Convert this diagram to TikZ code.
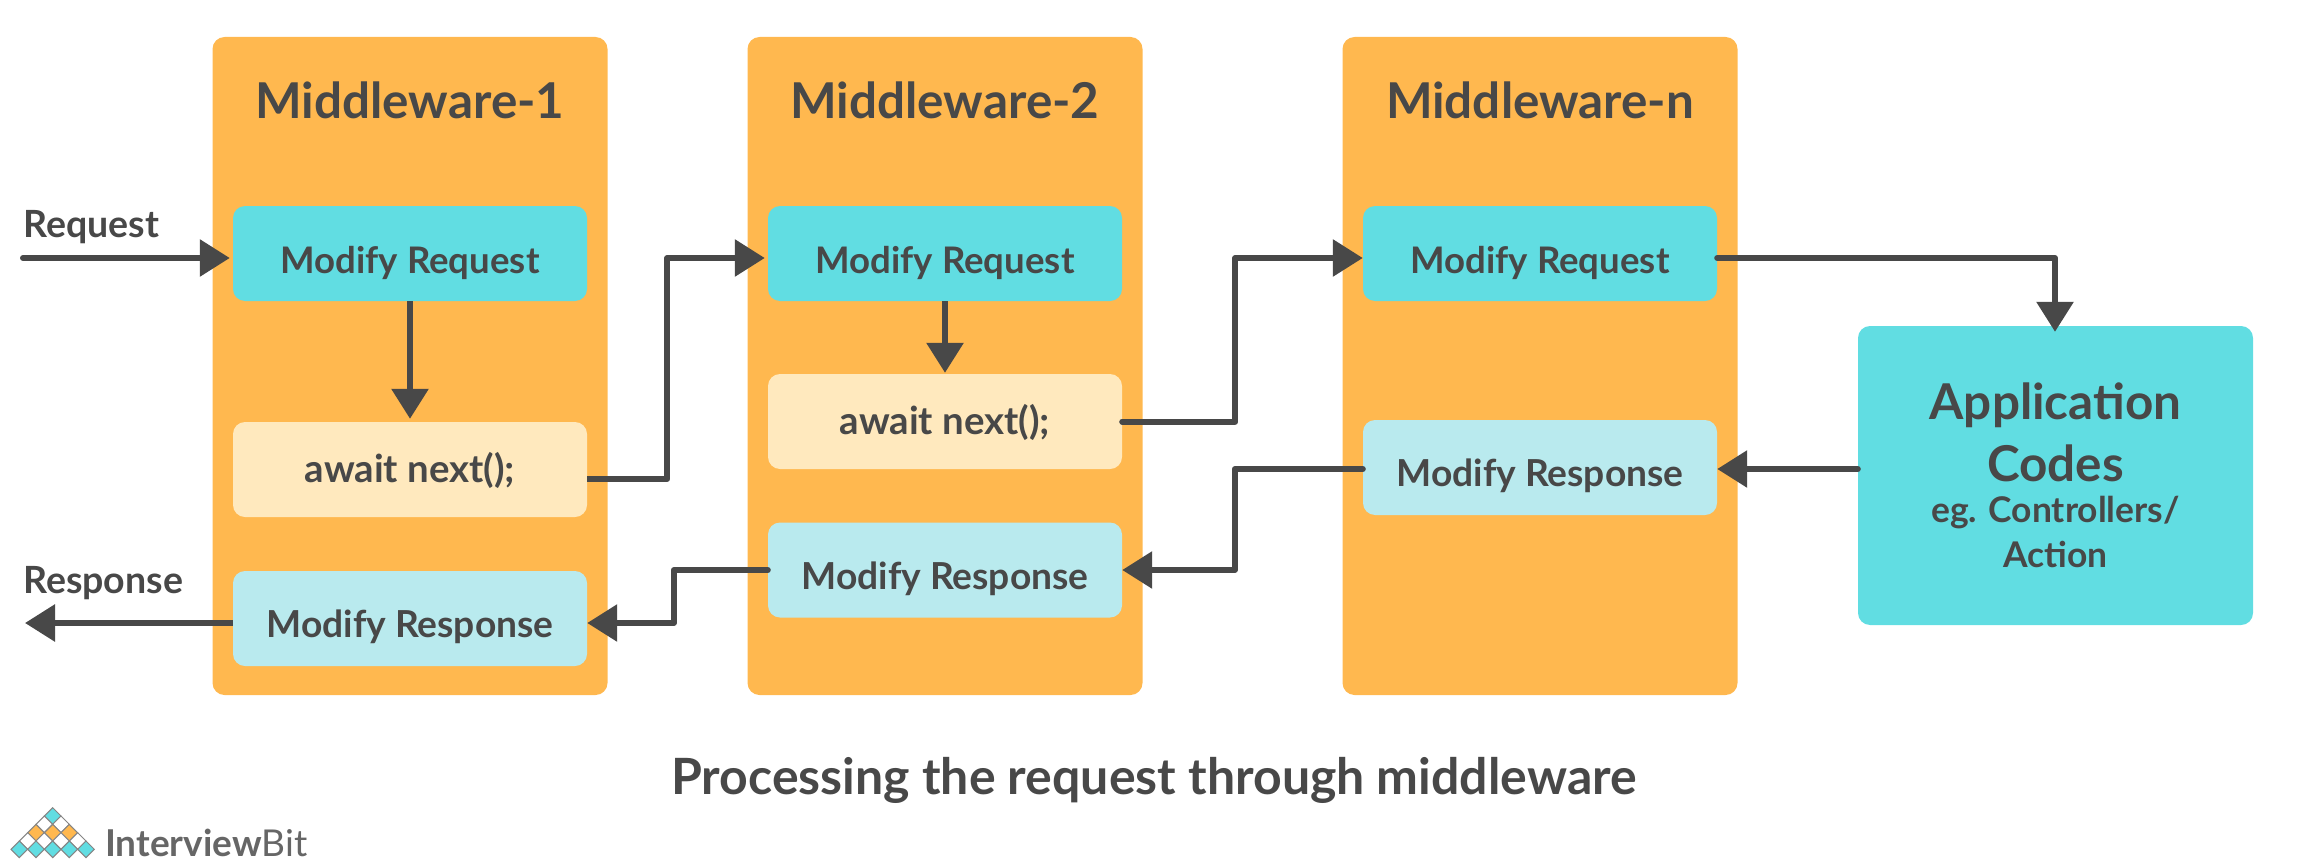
\documentclass[tikz,border=0pt]{standalone}
\usepackage{fontspec}
\usepackage{tikz}
\usetikzlibrary{arrows.meta}
\setmainfont{Lato}
\definecolor{panelorange}{HTML}{FFB84F}
\definecolor{boxcyan}{HTML}{61DDE2}
\definecolor{boxpale}{HTML}{B9EAEE}
\definecolor{boxcream}{HTML}{FFE9BE}
\definecolor{inkgrey}{HTML}{484848}
\definecolor{logogrey}{HTML}{666666}
\newcommand{\appbig}{\fontsize{49.4}{60}\selectfont}
\newcommand{\appsmall}{\fontsize{35.4}{45}\selectfont}

\begin{document}
\begin{tikzpicture}[x=1pt, y=-1pt,
    panel/.style={fill=panelorange, rounded corners=12pt, minimum width=395pt, minimum height=658pt, inner sep=0pt},
    paneltitle/.style={text=inkgrey, font=\fontsize{49.4}{49.4}\selectfont\bfseries, inner sep=0pt, anchor=base},
    stepbase/.style={rounded corners=12pt, minimum width=354pt, minimum height=95pt, inner sep=0pt, text=inkgrey, font=\fontsize{36.6}{36.6}\selectfont\bfseries, text depth=0pt},
    reqbox/.style={stepbase, fill=boxcyan, text height=39pt},
    respbox/.style={stepbase, fill=boxpale, font=\fontsize{37.2}{37.2}\selectfont\bfseries, text height=38pt},
    waitbox/.style={stepbase, fill=boxcream, font=\fontsize{38.4}{38.4}\selectfont\bfseries, text height=25pt},
    appbox/.style={fill=boxcyan, rounded corners=12pt, minimum width=395pt, minimum height=299pt, inner sep=0pt, text=inkgrey, align=center, font=\bfseries},
    caption/.style={text=inkgrey, font=\fontsize{37.5}{37.5}\selectfont\bfseries, inner sep=0pt, anchor=base west},
    flow/.style={draw=inkgrey, line width=6pt, line join=round, -{Triangle[length=30pt, width=36pt]}},
    logocell/.style={draw=logogrey!80, line width=1pt}]
  \useasboundingbox (0, 0) rectangle (2307, 867);

  \node [panel] (mid1) at (410, 366) {};
  \node [panel] (mid2) at (945, 366) {};
  \node [panel] (midn) at (1540, 366) {};
  \node [paneltitle] (title1) at (410, 118) {Middleware-1};
  \node [paneltitle] (title2) at (945, 118) {Middleware-2};
  \node [paneltitle] (titlen) at (1540, 118) {Middleware-n};

  \node [reqbox] (req1) at (410, 253.5) {Modify Request};
  \node [waitbox] (wait1) at (410, 469.5) {await next();};
  \node [respbox] (resp1) at (410, 618.5) {Modify Response};
  \node [reqbox] (req2) at (945, 253.5) {Modify Request};
  \node [waitbox] (wait2) at (945, 421.5) {await next();};
  \node [respbox] (resp2) at (945, 570) {Modify Response};
  \node [reqbox] (reqn) at (1540, 253.5) {Modify Request};
  \node [respbox] (respn) at (1540, 467.5) {Modify Response};

  \node [appbox] (app) at (2055.5, 475.5) {\appbig Application\\[16pt] \appbig Codes\\[13pt] \appsmall eg. Controllers/\\[12pt] \appsmall Action};

  \node [caption] (reqlabel) at (23, 237) {Request};
  \node [caption] (resplabel) at (23, 593) {Response};
  \node [text=inkgrey, font=\fontsize{50}{50}\selectfont\bfseries, inner sep=0pt, anchor=base] (bottomline) at (1154, 794) {Processing the request through middleware};

  \coordinate (reqin) at (23, 258);
  \coordinate (respout) at (25, 623);
  \draw [flow, line cap=round, shorten >=3pt] (reqin) -- ([yshift=-4.5pt]req1.west);
  \draw [flow, shorten >=3pt] (req1.south) -- (wait1.north);
  \draw [flow, shorten >=3pt] ([yshift=-9.5pt]wait1.east) -- ++(80, 0) |- ([yshift=-4.5pt]req2.west);
  \draw [flow, shorten >=1pt] (req2.south) -- (wait2.north);
  \draw [flow, line cap=round] (wait2.east) -- ++(113, 0) |- ([yshift=-4.5pt]reqn.west);
  \draw [flow, line cap=round] ([yshift=-4.5pt]reqn.east) -| ([xshift=-.5pt, yshift=-6pt]app.north);
  \draw [flow, line cap=round] ([yshift=6.5pt]app.west) -- ([yshift=-1.5pt]respn.east);
  \draw [flow, line cap=round] ([yshift=-1.5pt]respn.west) -- ++(-128, 0) |- (resp2.east);
  \draw [flow, line cap=round] (resp2.west) -- ++(-94, 0) |- ([yshift=-4.5pt]resp1.east);
  \draw [flow] ([yshift=-4.5pt]resp1.west) -- (respout);

  \foreach \cx/\cy/\cellfill in {52.7/816/boxcyan, 44.3/824.3/white, 61/824.3/white, 36/832.7/panelorange, 52.7/832.7/panelorange, 69.3/832.7/panelorange, 27.7/841/white, 44.3/841/white, 61/841/white, 77.7/841/white, 19.3/849.3/boxcyan, 36/849.3/boxcyan, 52.7/849.3/boxcyan, 69.3/849.3/boxcyan, 86/849.3/boxcyan}
    \draw [logocell, fill=\cellfill] (\cx, \cy) ++(-8.3, 0) -- ++(8.3, -8.3) -- ++(8.3, 8.3) -- ++(-8.3, 8.3) -- cycle;
  \node [text=logogrey, font=\fontsize{37}{37}\selectfont, inner sep=0pt, anchor=base west] (logoname) at (105, 856) {\textbf{Interview}Bit};
\end{tikzpicture}
\end{document}
